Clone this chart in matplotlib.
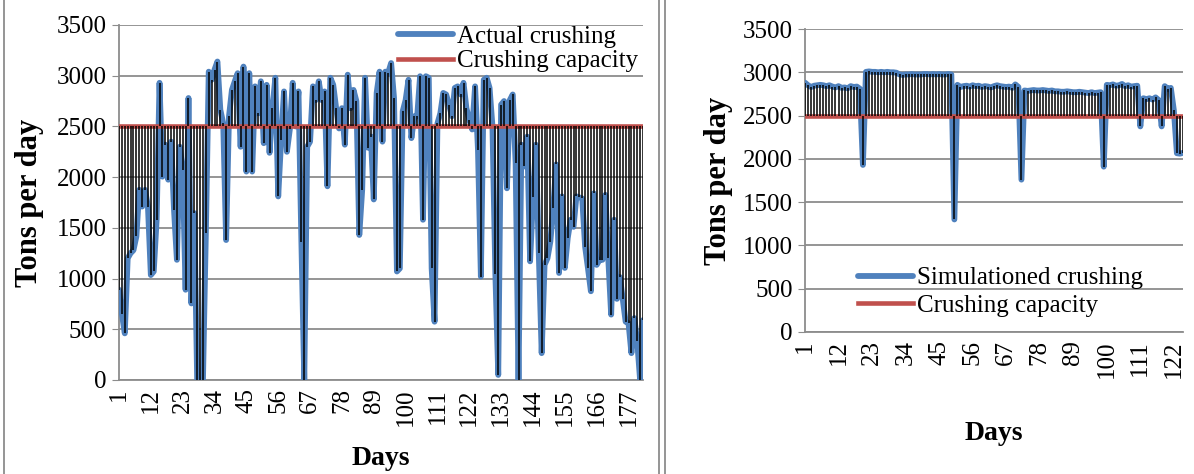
import matplotlib
matplotlib.use("Agg")
import matplotlib.pyplot as plt
from matplotlib.lines import Line2D

plt.rcParams['font.family'] = ['Liberation Serif', 'DejaVu Serif']

# daily crushing (tons per day)
actual = [
    890, 650, 460, 1200, 1250, 1280, 1415, 1875, 1710, 1875,
    1710, 1035, 1070, 1580, 2930, 2005, 2320, 1975, 2350, 1680,
    1185, 2300, 2070, 890, 2780, 755, 1645, 0, 0, 0,
    1450, 3040, 2960, 3060, 3140, 2665, 2530, 1380, 2600, 2860,
    2945, 3025, 2300, 3090, 2055, 3025, 2055, 2895, 2630, 2945,
    2335, 2910, 2240, 2680, 2980, 1810, 2370, 2845, 2250, 2470,
    2930, 2500, 2845, 1365, 0, 2300, 2350, 2895, 2760, 2945,
    2760, 2845, 1910, 2980, 2910, 2680, 2480, 2680, 2320, 3010,
    2680, 2860, 2750, 1430, 1875, 2980, 2290, 2400, 1780, 2830,
    3040, 2350, 3040, 3030, 3125, 2780, 1070, 1100, 2650, 2760,
    2960, 2385, 2600, 2600, 2995, 1580, 2995, 2980, 1100, 575,
    2530, 2630, 2830, 2815, 2715, 2600, 2880, 2895, 2815, 2930,
    2680, 2565, 2470, 2895, 2270, 1020, 2960, 2980, 2880, 2500,
    1050, 50, 2715, 2750, 1890, 2760, 2815, 2140, 0, 2320,
    2105, 2400, 1170, 1800, 2320, 1250, 265, 1135, 1200, 1365,
    1700, 2125, 1055, 1810, 1105, 1400, 1580, 1510, 1810, 1800,
    1790, 1315, 1100, 875, 1840, 1135, 1185, 1185, 1825, 1200,
    645, 1580, 800, 1015, 800, 575, 560, 265, 610, 380,
    0, 590,
]

simulated = (
    [2880]
    + [2850, 2830, 2845, 2850, 2855, 2850, 2840, 2850, 2835, 2825,
       2840, 2820, 2825, 2815, 2840, 2830, 2835, 2810]
    + [1930]
    + [3005, 3010, 3005, 3005, 3000, 3005, 3000, 3005, 3000, 3000, 2995]
    + [2975, 2970, 2975, 2975, 2980, 2975, 2975, 2975, 2980, 2980,
       2975, 2980, 2975, 2980, 2975, 2975, 2980, 2975]
    + [1300]
    + [2855, 2830, 2840, 2845, 2835, 2850, 2840, 2845, 2830, 2840,
       2835, 2825, 2840, 2850, 2840, 2835, 2830, 2835, 2820, 2860, 2830]
    + [1760]
    + [2790, 2785, 2790, 2795, 2790, 2790, 2795, 2790, 2785, 2790,
       2780, 2780, 2775, 2775, 2780, 2775, 2770, 2770, 2775, 2770,
       2765, 2760, 2770, 2760, 2765, 2770]
    + [1910]
    + [2855, 2850, 2860, 2845, 2850, 2865, 2840, 2850, 2835, 2840, 2845]
    + [2375]
    + [2700, 2690, 2700, 2685, 2710, 2680]
    + [2375, 2840, 2810, 2820, 2560, 2065, 2060, 2070]
)

capacity = 2500
yticks = [0, 500, 1000, 1500, 2000, 2500, 3000, 3500]

BLUE = '#4F81BD'
RED = '#C0504D'
GRID = '#8C8C8C'


def draw_panel(ax, values, series_label):
    days = list(range(1, len(values) + 1))
    cap = [capacity] * len(days)
    ax.plot(days, values, color=BLUE, lw=4.2, solid_joinstyle='round',
            solid_capstyle='round', zorder=3, label=series_label)
    ax.plot(days, cap, color=RED, lw=3.3, zorder=4, label='Crushing capacity')
    ax.vlines(days, cap, values, color='black', lw=1.1, zorder=5)

    ax.set_xlim(1, len(values))
    ax.set_ylim(0, 3500)
    ax.set_yticks(yticks)
    ax.set_xticks(days[::11])
    ax.set_xticklabels([str(d) for d in days[::11]], rotation=90)
    ax.tick_params(axis='y', labelsize=18, length=5, color=GRID, pad=4)
    ax.tick_params(axis='x', labelsize=18, length=0, pad=6)
    ax.grid(axis='y', color=GRID, lw=1.3)
    ax.set_axisbelow(True)
    for side in ['top', 'right']:
        ax.spines[side].set_visible(False)
    for side in ['left', 'bottom']:
        ax.spines[side].set_color(GRID)
        ax.spines[side].set_linewidth(1.3)
    ax.set_xlabel('Days', fontsize=20, fontweight='bold', va='center', ha='center')
    ax.set_ylabel('Tons per day', fontsize=22, fontweight='bold', va='center', ha='center')


fig = plt.figure(figsize=(11.94, 4.74), dpi=100)

ax1 = fig.add_axes([119 / 1194, 1 - 380 / 474, 524 / 1194, 355 / 474])
draw_panel(ax1, actual, 'Actual crushing')
ax1.legend(loc='upper right', bbox_to_anchor=(0.99, 1.0), frameon=False,
           fontsize=18, handlelength=2.2, handletextpad=0.15,
           labelspacing=0.1, borderaxespad=0.0, borderpad=0.0)
ax1.yaxis.set_label_coords(-0.17, 0.5)
ax1.xaxis.set_label_coords(0.5, -0.22)

ax2 = fig.add_axes([805 / 1194, 1 - 332 / 474, 378 / 1194, 303 / 474])
draw_panel(ax2, simulated, 'Simulationed crushing')
ax2.legend(loc='lower left', bbox_to_anchor=(0.14, 0.05), frameon=False,
           fontsize=18, handlelength=2.2, handletextpad=0.15,
           labelspacing=0.2, borderaxespad=0.0, borderpad=0.0)
ax2.yaxis.set_label_coords(-0.23, 0.5)
ax2.xaxis.set_label_coords(0.5, -0.335)

# chart borders
for x in [4, 659, 665]:
    fig.add_artist(Line2D([x / 1194, x / 1194], [0, 1], color=GRID, lw=1.3))

fig.savefig('out.png', dpi=100)
